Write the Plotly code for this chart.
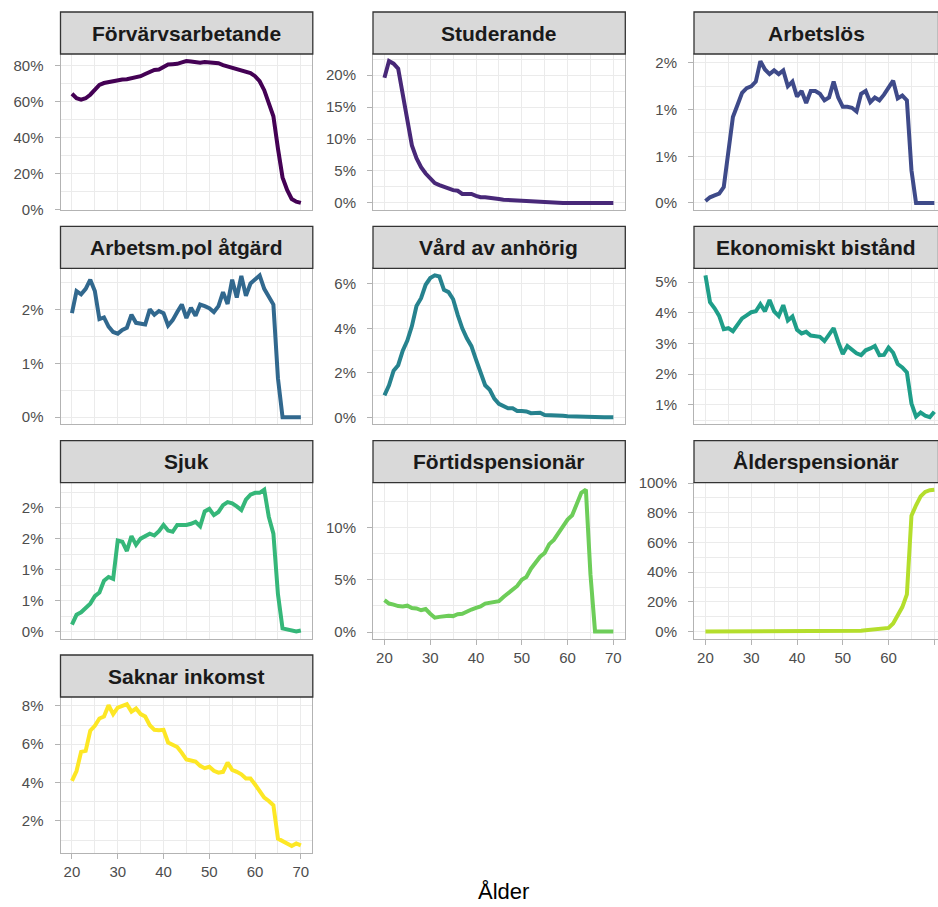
import plotly.graph_objects as go

# ── Data ──────────────────────────────────────────────────────────────────────
AGES = list(range(20, 71))

PANELS = ["Förvärvsarbetande", "Studerande", "Arbetslös",
          "Arbetsm.pol åtgärd", "Vård av anhörig", "Ekonomiskt bistånd",
          "Sjuk", "Förtidspensionär", "Ålderspensionär",
          "Saknar inkomst"]

# viridis, one colour per panel
COLORS = ["#440154", "#482878", "#3E4A89", "#31688E", "#26828E",
          "#1F9E89", "#35B779", "#6DCD59", "#B4DE2C", "#FDE725"]

# share of age group (%), ages 20..70
FORVARVSARBETANDE = [64.5, 62.0, 61.3, 62.0, 64.0, 67.0, 69.5, 70.5, 71.0, 71.8,
                     72.2, 72.4, 72.6, 73.2, 73.5, 74.3, 75.5, 76.5, 77.8, 78.0,
                     79.5, 80.8, 81.0, 81.2, 82.0, 82.7, 82.5, 82.2, 81.8, 82.2,
                     82.1, 82.0, 81.5, 80.5, 79.8, 79.0, 78.2, 77.6, 77.2, 76.0,
                     74.3, 71.5, 66.5, 60.0, 52.0, 34.0, 18.0, 11.0, 6.0, 4.5,
                     3.8]
STUDERANDE = [19.6, 22.2, 21.8, 21.0, 17.0, 12.5, 9.0, 7.0, 5.6, 4.6,
              3.8, 3.1, 2.8, 2.5, 2.2, 2.0, 1.9, 1.4, 1.4, 1.4,
              1.1, 0.9, 0.9, 0.85, 0.7, 0.6, 0.5, 0.45, 0.4, 0.35,
              0.3, 0.3, 0.25, 0.2, 0.15, 0.1, 0.05, 0.0, 0.0, 0.0,
              0.0, 0.0, 0.0, 0.0, 0.0, 0.0, 0.0, 0.0, 0.0, 0.0,
              0.0]
ARBETSLOS = [0.02, 0.06, 0.08, 0.10, 0.17, 0.55, 0.92, 1.05, 1.18, 1.23,
             1.25, 1.30, 1.52, 1.43, 1.38, 1.42, 1.38, 1.42, 1.25, 1.30,
             1.14, 1.20, 1.07, 1.20, 1.20, 1.17, 1.10, 1.13, 1.30, 1.13,
             1.03, 1.03, 1.02, 0.98, 1.17, 1.20, 1.08, 1.13, 1.10, 1.16,
             1.24, 1.31, 1.12, 1.15, 1.10, 0.35, 0.0, 0.0, 0.0, 0.0,
             0.0]
ARBETSMPOL = [1.93, 2.34, 2.28, 2.38, 2.55, 2.34, 1.82, 1.85, 1.68, 1.58,
              1.55, 1.62, 1.66, 1.90, 1.75, 1.74, 1.72, 2.00, 1.90, 1.97,
              1.93, 1.70, 1.80, 1.95, 2.09, 1.84, 2.03, 1.88, 2.09, 2.06,
              2.02, 1.95, 2.06, 2.32, 2.10, 2.55, 2.22, 2.62, 2.25, 2.48,
              2.55, 2.63, 2.38, 2.22, 2.09, 0.72, 0.0, 0.0, 0.0, 0.0,
              0.0]
VARD_ANHORIG = [1.0, 1.45, 2.1, 2.35, 3.0, 3.45, 4.1, 5.0, 5.35, 5.95,
                6.25, 6.37, 6.32, 5.72, 5.62, 5.3, 4.6, 4.0, 3.55, 3.2,
                2.6, 2.05, 1.45, 1.25, 0.85, 0.62, 0.5, 0.42, 0.42, 0.3,
                0.3, 0.28, 0.2, 0.2, 0.22, 0.12, 0.12, 0.11, 0.1, 0.08,
                0.06, 0.05, 0.05, 0.04, 0.03, 0.03, 0.02, 0.02, 0.02, 0.02,
                0.02]
EKONOMISKT = [5.22, 4.35, 4.15, 3.90, 3.47, 3.50, 3.40, 3.62, 3.82, 3.92,
              4.02, 4.05, 4.28, 4.05, 4.42, 4.05, 3.90, 4.25, 3.75, 3.88,
              3.45, 3.33, 3.38, 3.26, 3.25, 3.22, 3.08, 3.28, 3.50, 3.05,
              2.66, 2.92, 2.80, 2.68, 2.62, 2.78, 2.84, 2.92, 2.62, 2.63,
              2.87, 2.70, 2.33, 2.22, 2.06, 1.05, 0.62, 0.75, 0.65, 0.60,
              0.78]
SJUK = [0.11, 0.27, 0.31, 0.38, 0.45, 0.57, 0.63, 0.82, 0.88, 0.85,
        1.47, 1.45, 1.30, 1.54, 1.40, 1.50, 1.54, 1.58, 1.55, 1.62,
        1.72, 1.63, 1.61, 1.72, 1.72, 1.72, 1.74, 1.77, 1.70, 1.94,
        1.98, 1.88, 1.93, 2.04, 2.09, 2.07, 2.02, 1.96, 2.13, 2.21,
        2.24, 2.24, 2.29, 1.85, 1.58, 0.60, 0.05, 0.03, 0.01, 0.0,
        0.016]
FORTIDSPENSION = [3.05, 2.72, 2.62, 2.48, 2.45, 2.52, 2.30, 2.25, 2.08, 2.20,
                  1.75, 1.37, 1.45, 1.52, 1.55, 1.52, 1.70, 1.75, 2.00, 2.15,
                  2.30, 2.45, 2.72, 2.82, 2.88, 2.95, 3.35, 3.70, 4.05, 4.40,
                  5.00, 5.25, 6.05, 6.70, 7.20, 7.55, 8.40, 8.80, 9.40, 10.05,
                  10.75, 11.15, 12.20, 13.30, 13.60, 5.50, 0.05, 0.05, 0.05, 0.05,
                  0.05]
ALDERSPENSION = [0.05, 0.05, 0.05, 0.05, 0.05, 0.05, 0.05, 0.05, 0.05, 0.05,
                 0.05, 0.05, 0.05, 0.05, 0.05, 0.05, 0.05, 0.05, 0.05, 0.05,
                 0.05, 0.05, 0.05, 0.05, 0.05, 0.05, 0.05, 0.05, 0.05, 0.1,
                 0.1, 0.2, 0.3, 0.4, 0.6, 0.9, 1.1, 1.3, 1.6, 1.9,
                 2.5, 5.5, 10.5, 16.5, 25.0, 78.0, 85.0, 91.0, 94.0, 95.2,
                 95.5]
SAKNAR_INKOMST = [4.09, 4.60, 5.60, 5.65, 6.70, 6.96, 7.34, 7.44, 8.03, 7.57,
                  7.91, 8.00, 8.09, 7.70, 7.86, 7.57, 7.44, 6.99, 6.75, 6.73,
                  6.75, 6.09, 5.95, 5.85, 5.55, 5.20, 5.15, 5.10, 4.87, 4.75,
                  4.82, 4.61, 4.52, 4.56, 5.04, 4.66, 4.56, 4.43, 4.21, 4.21,
                  3.90, 3.60, 3.22, 3.04, 2.82, 1.08, 0.96, 0.80, 0.70, 0.83,
                  0.73]

SERIES = [FORVARVSARBETANDE, STUDERANDE, ARBETSLOS, ARBETSMPOL, VARD_ANHORIG,
          EKONOMISKT, SJUK, FORTIDSPENSION, ALDERSPENSION, SAKNAR_INKOMST]

X_TICKS = [20, 30, 40, 50, 60, 70]
Y_TICKS = [[0, 20, 40, 60, 80], [0, 5, 10, 15, 20], [0, 0.5, 1.0, 1.5],
           [0, 1, 2], [0, 2, 4, 6], [1, 2, 3, 4, 5],
           [0, 0.5, 1.0, 1.5, 2.0], [0, 5, 10], [0, 20, 40, 60, 80, 100],
           [2, 4, 6, 8]]
# labels rounded to whole percent, as in the original
Y_TICKTEXT = [["0%", "20%", "40%", "60%", "80%"],
              ["0%", "5%", "10%", "15%", "20%"],
              ["0%", "1%", "1%", "2%"],
              ["0%", "1%", "2%"],
              ["0%", "2%", "4%", "6%"],
              ["1%", "2%", "3%", "4%", "5%"],
              ["0%", "1%", "1%", "2%", "2%"],
              ["0%", "5%", "10%"],
              ["0%", "20%", "40%", "60%", "80%", "100%"],
              ["2%", "4%", "6%", "8%"]]

# ── Layout constants (pixels) ─────────────────────────────────────────────────
W, H = 938, 907
COL_X = [(60.5, 312.3), (373.0, 624.8), (694.0, 938.0)]
PANEL_W = 251.8
ROW_TOP = [54.0, 268.3, 482.6, 697.0]
PANEL_H = 156.0
STRIP_H = 42.0
GRID = "#EBEBEB"
BORDER = "#B3B3B3"
FONT = "Liberation Sans, Arial, sans-serif"
BOTTOM_PANELS = {7, 8, 9}


def minor_vals(ticks, lo, hi):
    step = ticks[1] - ticks[0]
    ext = [ticks[0] - step] + list(ticks) + [ticks[-1] + step]
    mids = [(a + b) / 2 for a, b in zip(ext[:-1], ext[1:])]
    return [m for m in mids if lo <= m <= hi]


fig = go.Figure()
layout = dict(
    width=W, height=H,
    margin=dict(l=0, r=0, t=0, b=0, pad=0, autoexpand=False),
    paper_bgcolor="white", plot_bgcolor="white", showlegend=False,
    font=dict(family=FONT, color="#4D4D4D"),
)
shapes, annotations = [], []

for i, (name, vals, color) in enumerate(zip(PANELS, SERIES, COLORS)):
    row, col = divmod(i, 3)
    n = "" if i == 0 else str(i + 1)
    x0, x1 = COL_X[col]
    top = ROW_TOP[row]
    bottom = top + PANEL_H

    fig.add_trace(go.Scatter(
        x=AGES, y=vals, mode="lines", name=name,
        line=dict(color=color, width=4),
        xaxis="x" + n, yaxis="y" + n,
    ))

    # ggplot-style 5 % expansion
    vmin, vmax = min(vals), max(vals)
    pad = 0.05 * (vmax - vmin)
    ylo, yhi = vmin - pad, vmax + pad
    xlo = 17.5
    xhi = xlo + (x1 - x0) / PANEL_W * 55.0

    show_x = i in BOTTOM_PANELS
    layout["xaxis" + n] = dict(
        domain=[x0 / W, x1 / W], anchor="y" + n, range=[xlo, xhi],
        tickmode="array", tickvals=X_TICKS, automargin=False,
        showticklabels=show_x, ticks="outside" if show_x else "",
        ticklen=5, tickcolor=BORDER, tickfont=dict(size=15, color="#4D4D4D"),
        showgrid=True, gridcolor=GRID, gridwidth=1.3,
        minor=dict(tickmode="array", tickvals=minor_vals(X_TICKS, xlo, xhi),
                   showgrid=True, gridcolor=GRID, gridwidth=0.8),
        showline=True, linecolor=BORDER, linewidth=1, mirror=True,
        zeroline=False, fixedrange=True,
    )
    layout["yaxis" + n] = dict(
        domain=[1 - bottom / H, 1 - top / H], anchor="x" + n, range=[ylo, yhi],
        tickmode="array", tickvals=Y_TICKS[i], ticktext=Y_TICKTEXT[i],
        automargin=False,
        ticks="outside", ticklen=5, tickcolor=BORDER, ticklabelstandoff=8,
        tickfont=dict(size=15, color="#4D4D4D"),
        showgrid=True, gridcolor=GRID, gridwidth=1.3,
        minor=dict(tickmode="array", tickvals=minor_vals(Y_TICKS[i], ylo, yhi),
                   showgrid=True, gridcolor=GRID, gridwidth=0.8),
        showline=True, linecolor=BORDER, linewidth=1, mirror=col != 2,
        zeroline=False, fixedrange=True,
    )

    # facet strip
    s_top = top - STRIP_H
    shapes.append(dict(
        type="rect", xref="paper", yref="paper",
        x0=x0 / W, x1=min(x1 + 0.5, W + 5) / W,
        y0=1 - top / H, y1=1 - s_top / H,
        fillcolor="#D9D9D9", line=dict(color="#333333", width=1.3),
    ))
    annotations.append(dict(
        text="<b>%s</b>" % name, xref="paper", yref="paper",
        x=(x0 + min(x1, W)) / 2 / W, y=1 - (s_top + STRIP_H / 2) / H,
        xanchor="center", yanchor="middle", showarrow=False,
        font=dict(size=21, color="#1A1A1A", family=FONT),
    ))

# x axis title, kept fully inside the page
annotations.append(dict(
    text="Ålder", xref="paper", yref="paper", x=503 / W, y=0.0015,
    xanchor="center", yanchor="bottom", showarrow=False,
    font=dict(size=22, color="#000000", family=FONT),
))

layout["shapes"] = shapes
layout["annotations"] = annotations
fig.update_layout(**layout)

# pin the figure to the window's top-left corner so the page is exactly W x H
PIN = ("var r=document.documentElement;r.style.overflow='hidden';"
       "r.style.width='%dpx';r.style.height='%dpx';"
       "document.body.style.margin='0';document.body.style.overflow='hidden';"
       "document.body.style.height='%dpx';"
       "var g=document.getElementById('{plot_id}').parentElement;"
       "g.style.position='fixed';g.style.top='0';g.style.left='0';" % (W, H, H))

fig.write_html("out.html", post_script=PIN, config={"displayModeBar": False})
